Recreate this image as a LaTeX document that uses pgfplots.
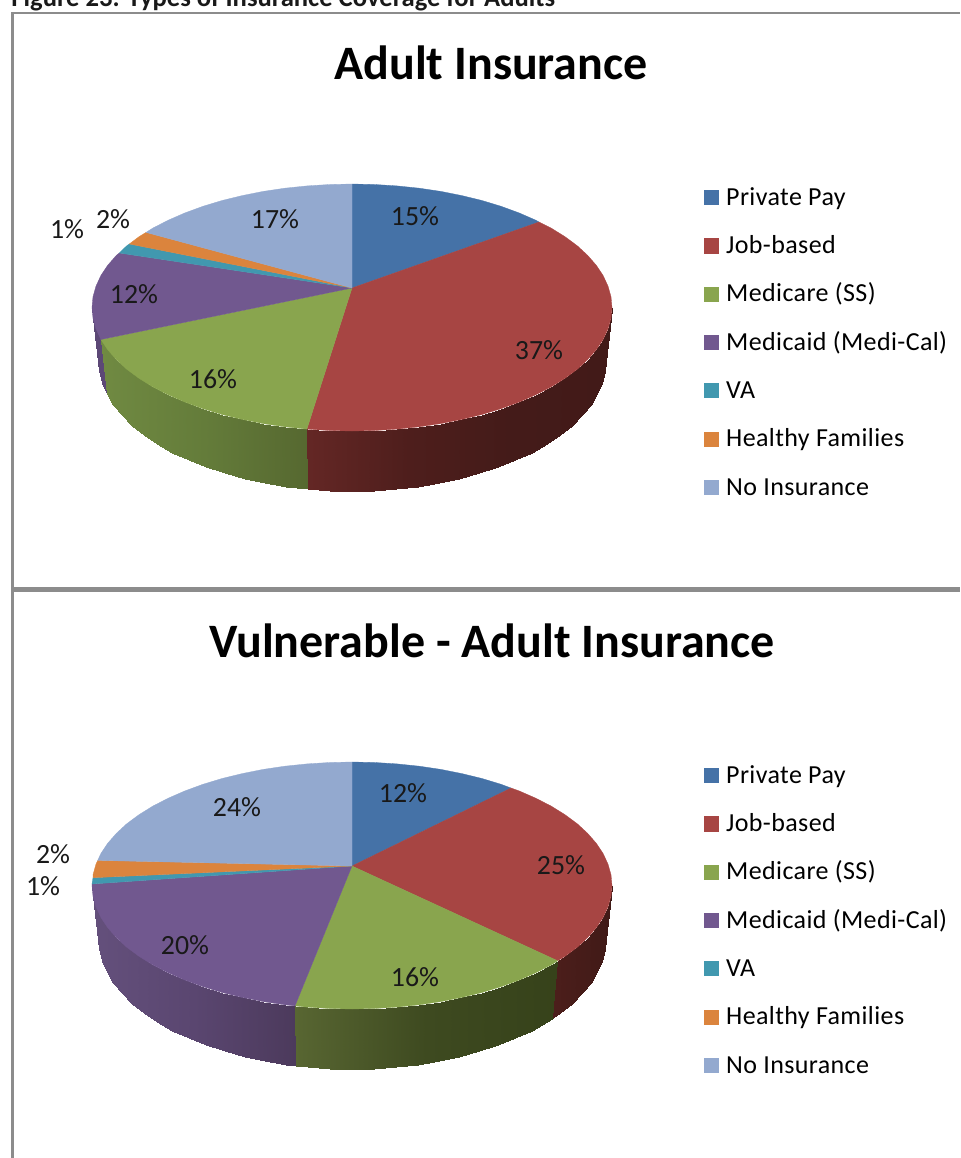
\documentclass[border=0pt]{standalone}
\usepackage{pgfplots}
\pgfplotsset{compat=1.18}
\usepackage{fontspec}
\setmainfont{Carlito}
\definecolor{cblue}{HTML}{4572A7}
\definecolor{cred}{HTML}{A74543}
\definecolor{cgreen}{HTML}{89A54E}
\definecolor{cpurple}{HTML}{71588F}
\definecolor{cteal}{HTML}{4198AF}
\definecolor{corange}{HTML}{DB843D}
\definecolor{clight}{HTML}{93A9CF}
\definecolor{frame}{HTML}{8C8C8C}
\pgfplotsset{
 /pgfplots/colormap={sideredA}{rgb255=(100,39,37) rgb255=(78,30,28) rgb255=(68,27,25) rgb255=(66,26,24)},
 /pgfplots/colormap={sidegreenA}{rgb255=(112,138,66) rgb255=(100,124,58) rgb255=(86,104,48)},
 /pgfplots/colormap={sidepurpleA}{rgb255=(92,72,118) rgb255=(92,72,118)},
 /pgfplots/colormap={sideredB}{rgb255=(76,30,27) rgb255=(64,26,23)},
 /pgfplots/colormap={sidegreenB}{rgb255=(88,102,50) rgb255=(62,74,32) rgb255=(54,66,26)},
 /pgfplots/colormap={sidepurpleB}{rgb255=(100,80,124) rgb255=(90,70,112) rgb255=(76,58,92)},
 pieaxis/.style={hide axis, scale only axis, clip=false, width=480pt, xmin=0, xmax=960, ymin=0, y dir=reverse,
   legend cell align=left,
   legend image code/.code={\fill[##1,draw=none] (0pt,0pt) rectangle (7.6pt,7.6pt);},
   legend style={at={(axis cs:704,#1)}, anchor=north west, draw=none, fill=none, inner sep=0pt, outer sep=0pt, row sep=12.15pt, column sep=3.5pt,
     nodes={inner sep=0pt, outer sep=0pt, text height=8.6pt, text depth=3.4pt, anchor=base west},
     font=\fontsize{13}{14}\selectfont\addfontfeatures{LetterSpace=1.5}}},
 wedge/.style={fill=#1, draw=#1, line width=0.15pt, forget plot},
 side/.style={surf, shader=interp, mesh/cols=2, point meta=x, point meta rel=per plot, colormap name=#1, forget plot},
 rule/.style={draw=frame, line width=#1, forget plot},
}
\newcommand{\lab}[3]{\node[font=\fontsize{13.9}{14}\selectfont, text=black!90] at (axis cs:#1,#2) {#3\%};}
\newcommand{\legendrows}{%
 \addlegendimage{fill=cblue}\addlegendentry{Private Pay}
 \addlegendimage{fill=cred}\addlegendentry{Job-based}
 \addlegendimage{fill=cgreen}\addlegendentry{Medicare (SS)}
 \addlegendimage{fill=cpurple}\addlegendentry{Medicaid (Medi-Cal)}
 \addlegendimage{fill=cteal}\addlegendentry{VA}
 \addlegendimage{fill=corange}\addlegendentry{Healthy Families}
 \addlegendimage{fill=clight}\addlegendentry{No Insurance}
}
\begin{document}
\begin{tikzpicture}
\path[use as bounding box, clip] (0,0) rectangle (480pt,579pt);
% ---------- upper chart (values are image pixels)
\begin{axis}[pieaxis=188, height=289pt, ymax=578, at={(0pt,290pt)}]
\addplot[rule=1.2pt] coordinates {(12.5,1158) (12.5,12.8) (960,12.8)};
\node[anchor=base west, inner sep=0pt, font=\fontsize{13.3}{14}\selectfont\bfseries, text=black!90] at (axis cs:11,6) {Figure 23. Types of Insurance Coverage for Adults};
\node[font=\fontsize{24}{26}\selectfont\bfseries] at (axis cs:491,63) {Adult Insurance};
\addplot[side=sidepurpleA] coordinates {
(100.9,339.5)(106.7,393.9)(96,328.9)(101.9,382.7)(93,318.3)(99,371.4)(92,307.5)(98,360)};
\addplot[side=sidegreenA] coordinates {
(306.9,429.1)(307.9,489)(284.7,426.8)(286.2,486.5)(263.1,423.6)(265.1,483.1)(242.1,419.4)(244.6,478.7)
(222,414.5)(225,473.4)(202.9,408.7)(206.3,467.3)(184.9,402.1)(188.7,460.3)(168.2,394.8)(172.4,452.6)
(152.8,386.9)(157.4,444.2)(139,378.3)(143.9,435.1)(126.8,369.3)(132,425.5)(116.4,359.7)(121.8,415.4)
(107.7,349.7)(113.3,404.8)(100.9,339.5)(106.7,393.9)};
\addplot[side=sideredA] coordinates {
(612,307.5)(606,360)(611,318.3)(605,371.4)(608,328.9)(602.1,382.7)(603.1,339.5)(597.3,393.9)
(596.3,349.7)(590.7,404.8)(587.6,359.7)(582.2,415.4)(577.2,369.3)(572,425.5)(565,378.3)(560.1,435.1)
(551.2,386.9)(546.6,444.2)(535.8,394.8)(531.6,452.6)(519.1,402.1)(515.3,460.3)(501.1,408.7)(497.7,467.3)
(482,414.5)(479,473.4)(461.9,419.4)(459.4,478.7)(440.9,423.6)(438.9,483.1)(419.3,426.8)(417.8,486.5)
(397.1,429.1)(396.1,489)(374.7,430.5)(374.2,490.5)(352,431)(352,491)(329.3,430.5)(329.8,490.5)(306.9,429.1)(307.9,489)};
\addplot[wedge=cblue] coordinates {(352,288)(352,184)(374.7,184.5)(397.1,185.9)(419.3,188.2)(440.9,191.4)(461.9,195.6)(482,200.5)(501.1,206.3)(519.1,212.9)(535.8,220.2)(539,222)} --cycle;
\addplot[wedge=cred] coordinates {(352,288)(539,222)(551.2,228.1)(565,236.7)(577.2,245.7)(587.6,255.3)(596.3,265.3)(603.1,275.5)(608,286.1)(611,296.7)(612,307.5)(611,318.3)(608,328.9)(603.1,339.5)(596.3,349.7)(587.6,359.7)(577.2,369.3)(565,378.3)(551.2,386.9)(535.8,394.8)(519.1,402.1)(501.1,408.7)(482,414.5)(461.9,419.4)(440.9,423.6)(419.3,426.8)(397.1,429.1)(374.7,430.5)(352,431)(329.3,430.5)(306.9,429.1)} --cycle;
\addplot[wedge=cgreen] coordinates {(352,288)(306.9,429.1)(284.7,426.8)(263.1,423.6)(242.1,419.4)(222,414.5)(202.9,408.7)(184.9,402.1)(168.2,394.8)(152.8,386.9)(139,378.3)(126.8,369.3)(116.4,359.7)(107.7,349.7)(100.9,339.5)} --cycle;
\addplot[wedge=cpurple] coordinates {(352,288)(100.9,339.5)(96,328.9)(93,318.3)(92,307.5)(93,296.7)(96,286.1)(100.9,275.5)(107.7,265.3)(116.4,255.3)(119.3,253)} --cycle;
\addplot[wedge=cteal] coordinates {(352,288)(119.3,253)(126.8,245.7)(129.3,244)} --cycle;
\addplot[wedge=corange] coordinates {(352,288)(129.3,244)(139,236.7)(146,232.4)} --cycle;
\addplot[wedge=clight] coordinates {(352,288)(146,232.4)(152.8,228.1)(168.2,220.2)(184.9,212.9)(202.9,206.3)(222,200.5)(242.1,195.6)(263.1,191.4)(284.7,188.2)(306.9,185.9)(329.3,184.5)(352,184)} --cycle;
\lab{415}{216}{15}\lab{539}{350}{37}\lab{213}{379}{16}\lab{134}{294}{12}\lab{67}{229}{1}\lab{113}{219}{2}\lab{275}{219}{17}
\legendrows
\end{axis}
% ---------- lower chart (image pixels less 578)
\begin{axis}[pieaxis=188, height=290pt, ymax=580, at={(0pt,0pt)}]
\addplot[rule=2.2pt] coordinates {(12.5,11.3) (960,11.3)};
\node[font=\fontsize{24}{26}\selectfont\bfseries] at (axis cs:492,63) {Vulnerable - Adult Insurance};
\addplot[side=sidepurpleB] coordinates {
(295,427.9)(296,487.6)(284.7,426.8)(286.2,486.5)(263.1,423.6)(265.1,483.1)(242.1,419.4)(244.6,478.7)
(222,414.5)(225,473.4)(202.9,408.7)(206.3,467.3)(184.9,402.1)(188.7,460.3)(168.2,394.8)(172.4,452.6)
(152.8,386.9)(157.4,444.2)(139,378.3)(143.9,435.1)(126.8,369.3)(132,425.5)(116.4,359.7)(121.8,415.4)
(107.7,349.7)(113.3,404.8)(100.9,339.5)(106.7,393.9)(96,328.9)(101.9,382.7)(93,318.3)(99,371.4)(92,307.5)(98,360)};
\addplot[side=sidegreenB] coordinates {
(557.7,382.8)(553.4,439.7)(551.2,386.9)(546.6,444.2)(535.8,394.8)(531.6,452.6)(519.1,402.1)(515.3,460.3)
(501.1,408.7)(497.7,467.3)(482,414.5)(479,473.4)(461.9,419.4)(459.4,478.7)(440.9,423.6)(438.9,483.1)
(419.3,426.8)(417.8,486.5)(397.1,429.1)(396.1,489)(374.7,430.5)(374.2,490.5)(352,431)(352,491)
(329.3,430.5)(329.8,490.5)(306.9,429.1)(307.9,489)(295,427.9)(296,487.6)};
\addplot[side=sideredB] coordinates {
(612,307.5)(606,360)(611,318.3)(605,371.4)(608,328.9)(602.1,382.7)(603.1,339.5)(597.3,393.9)
(596.3,349.7)(590.7,404.8)(587.6,359.7)(582.2,415.4)(577.2,369.3)(572,425.5)(565,378.3)(560.1,435.1)(557.7,382.8)(553.4,439.7)};
\addplot[wedge=cblue] coordinates {(352,288)(352,184)(374.7,184.5)(397.1,185.9)(419.3,188.2)(440.9,191.4)(461.9,195.6)(482,200.5)(501.1,206.3)(511,210)} --cycle;
\addplot[wedge=cred] coordinates {(352,288)(511,210)(519.1,212.9)(535.8,220.2)(551.2,228.1)(565,236.7)(577.2,245.7)(587.6,255.3)(596.3,265.3)(603.1,275.5)(608,286.1)(611,296.7)(612,307.5)(611,318.3)(608,328.9)(603.1,339.5)(596.3,349.7)(587.6,359.7)(577.2,369.3)(565,378.3)(557.7,382.8)} --cycle;
\addplot[wedge=cgreen] coordinates {(352,288)(557.7,382.8)(551.2,386.9)(535.8,394.8)(519.1,402.1)(501.1,408.7)(482,414.5)(461.9,419.4)(440.9,423.6)(419.3,426.8)(397.1,429.1)(374.7,430.5)(352,431)(329.3,430.5)(306.9,429.1)(295,427.9)} --cycle;
\addplot[wedge=cpurple] coordinates {(352,288)(295,427.9)(284.7,426.8)(263.1,423.6)(242.1,419.4)(222,414.5)(202.9,408.7)(184.9,402.1)(168.2,394.8)(152.8,386.9)(139,378.3)(126.8,369.3)(116.4,359.7)(107.7,349.7)(100.9,339.5)(96,328.9)(93,318.3)(92,307.5)(92,306)} --cycle;
\addplot[wedge=cteal] coordinates {(352,288)(92,306)(93,299.7)} --cycle;
\addplot[wedge=corange] coordinates {(352,288)(93,299.7)(93,296.7)(96,286.1)(97.7,282.4)} --cycle;
\addplot[wedge=clight] coordinates {(352,288)(97.7,282.4)(100.9,275.5)(107.7,265.3)(116.4,255.3)(126.8,245.7)(139,236.7)(152.8,228.1)(168.2,220.2)(184.9,212.9)(202.9,206.3)(222,200.5)(242.1,195.6)(263.1,191.4)(284.7,188.2)(306.9,185.9)(329.3,184.5)(352,184)} --cycle;
\lab{403}{215}{12}\lab{561}{287}{25}\lab{415}{399}{16}\lab{185}{367}{20}\lab{53}{276}{2}\lab{43}{308}{1}\lab{237}{229}{24}
\legendrows
\end{axis}
\end{tikzpicture}
\end{document}
